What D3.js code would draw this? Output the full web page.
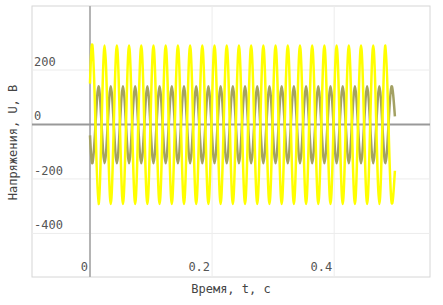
<!DOCTYPE html>
<html>
<head>
<meta charset="utf-8">
<script src="https://cdn.jsdelivr.net/npm/d3@7"></script>
<style>
  body { margin: 0; background: #fff; }
  svg { display: block; font-family: "DejaVu Sans Mono", monospace; }
</style>
</head>
<body>
<div class="chart"></div>
<script>
// time samples, s (extrema and zero crossings)
const times = [0,
  0.004, 0.009, 0.014, 0.019, 0.024, 0.029, 0.034, 0.039, 0.044, 0.049,
  0.054, 0.059, 0.064, 0.069, 0.074, 0.079, 0.084, 0.089, 0.094, 0.099,
  0.104, 0.109, 0.114, 0.119, 0.124, 0.129, 0.134, 0.139, 0.144, 0.149,
  0.154, 0.159, 0.164, 0.169, 0.174, 0.179, 0.184, 0.189, 0.194, 0.199,
  0.204, 0.209, 0.214, 0.219, 0.224, 0.229, 0.234, 0.239, 0.244, 0.249,
  0.254, 0.259, 0.264, 0.269, 0.274, 0.279, 0.284, 0.289, 0.294, 0.299,
  0.304, 0.309, 0.314, 0.319, 0.324, 0.329, 0.334, 0.339, 0.344, 0.349,
  0.354, 0.359, 0.364, 0.369, 0.374, 0.379, 0.384, 0.389, 0.394, 0.399,
  0.404, 0.409, 0.414, 0.419, 0.424, 0.429, 0.434, 0.439, 0.444, 0.449,
  0.454, 0.459, 0.464, 0.469, 0.474, 0.479, 0.484, 0.489, 0.494,
  0.4995]

// yellow signal, V
const uYellow = [150,
  290, 0, -292, 0, 290, 0, -292, 0, 290, 0,
  -292, 0, 290, 0, -292, 0, 290, 0, -292, 0,
  290, 0, -292, 0, 290, 0, -292, 0, 290, 0,
  -292, 0, 290, 0, -292, 0, 290, 0, -292, 0,
  290, 0, -292, 0, 290, 0, -292, 0, 290, 0,
  -292, 0, 290, 0, -292, 0, 290, 0, -292, 0,
  290, 0, -292, 0, 290, 0, -292, 0, 290, 0,
  -292, 0, 290, 0, -292, 0, 290, 0, -292, 0,
  290, 0, -292, 0, 290, 0, -292, 0, 290, 0,
  -292, 0, 290, 0, -292, 0, 290, 0, -285,
  -170]

// grey signal, V
const uGrey = [-40,
  -142, -2, 140, -2, -142, -2, 140, -2, -142, -2,
  140, -2, -142, -2, 140, -2, -142, -2, 140, -2,
  -142, -2, 140, -2, -142, -2, 140, -2, -142, -2,
  140, -2, -142, -2, 140, -2, -142, -2, 140, -2,
  -142, -2, 140, -2, -142, -2, 140, -2, -142, -2,
  140, -2, -142, -2, 140, -2, -142, -2, 140, -2,
  -142, -2, 140, -2, -142, -2, 140, -2, -142, -2,
  140, -2, -142, -2, 140, -2, -142, -2, 140, -2,
  -142, -2, 140, -2, -142, -2, 140, -2, -142, -2,
  140, -2, -142, -2, 140, -2, -142, -2, 140,
  30]

const xTicks = [0, 0.2, 0.4]
const yTicks = [-400, -200, 0, 200]

const width = 443, height = 305
const plot = {left: 32, right: 430, top: 6, bottom: 277}

const svg = d3.select(".chart")
  .append("svg")
    .attr("width", width)
    .attr("height", height)

let x = d3.scaleLinear()
  .domain([-0.095, 0.557])
  .range([plot.left, plot.right])

let y = d3.scaleLinear()
  .domain([-560, 435])
  .range([plot.bottom, plot.top])

svg.append("rect")
  .attr("x", plot.left)
  .attr("y", plot.top)
  .attr("width", plot.right - plot.left)
  .attr("height", plot.bottom - plot.top)
  .attr("fill", "#fff")
  .attr("stroke", "#d6d6d6")

// grid
svg.append("g")
  .selectAll("line")
  .data(xTicks.filter(d => d !== 0))
  .enter().append("line")
    .attr("x1", d => x(d)).attr("x2", d => x(d))
    .attr("y1", plot.top).attr("y2", plot.bottom)
    .attr("stroke", "#ececec")

svg.append("g")
  .selectAll("line")
  .data(yTicks.filter(d => d !== 0))
  .enter().append("line")
    .attr("x1", plot.left).attr("x2", plot.right)
    .attr("y1", d => y(d)).attr("y2", d => y(d))
    .attr("stroke", "#ececec")

// zero lines
svg.append("line")
  .attr("x1", x(0)).attr("x2", x(0))
  .attr("y1", plot.top).attr("y2", plot.bottom)
  .attr("stroke", "#b4b4b4")
  .attr("stroke-width", 2)

svg.append("line")
  .attr("x1", plot.left).attr("x2", plot.right)
  .attr("y1", y(0)).attr("y2", y(0))
  .attr("stroke", "#999")
  .attr("stroke-width", 2)

const line = (vals) => d3.line()
  .x((d, i) => x(times[i]))
  .y(d => y(d))
  .curve(d3.curveNatural)(vals)

svg.append("path")
  .attr("d", line(uGrey))
  .attr("fill", "none")
  .attr("stroke", "#a3a163")
  .attr("stroke-width", 2.5)

svg.append("path")
  .attr("d", line(uYellow))
  .attr("fill", "none")
  .attr("stroke", "#ffff00")
  .attr("stroke-width", 2.5)

// tick labels
svg.append("g")
  .selectAll("text")
  .data(yTicks)
  .enter().append("text")
    .attr("x", plot.left + 2)
    .attr("y", d => y(d) - 4)
    .attr("font-size", 12)
    .attr("fill", "#555")
    .text(d => d)

svg.append("g")
  .selectAll("text")
  .data(xTicks)
  .enter().append("text")
    .attr("x", d => x(d) - 2)
    .attr("y", plot.bottom - 6)
    .attr("text-anchor", "end")
    .attr("font-size", 12)
    .attr("fill", "#555")
    .text(d => d)

// axis titles
svg.append("text")
  .attr("x", (plot.left + plot.right) / 2)
  .attr("y", 293)
  .attr("text-anchor", "middle")
  .attr("font-size", 12)
  .attr("fill", "#444")
  .text("Время, t, с")

svg.append("text")
  .attr("transform", "translate(17," + ((plot.top + plot.bottom) / 2 + 1) + ") rotate(-90)")
  .attr("text-anchor", "middle")
  .attr("font-size", 12)
  .attr("fill", "#444")
  .text("Напряжения, U, В")
</script>
</body>
</html>
